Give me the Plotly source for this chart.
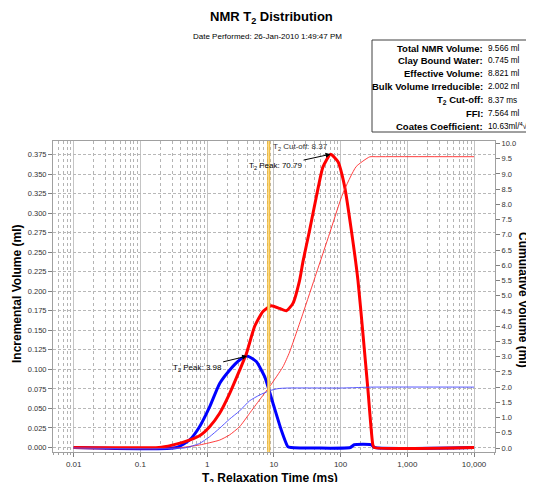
import math
import plotly.graph_objects as go

# ---------------- data ----------------
# Incremental volume: total (red) and bound part (blue)
red_inc_t = [0.01, 0.19, 0.3, 0.43, 0.77, 1.09, 1.54, 2.17, 3.07, 3.87, 5.15, 6.86, 9.15,
             12.2, 15.4, 19.3, 24.3, 27.3, 34.3, 43.3, 54.3, 70.79, 91, 115, 145, 182,
             216, 257, 305, 320, 10000]
red_inc_v = [0, 0, 0.003, 0.0065, 0.015, 0.0266, 0.0438, 0.069, 0.099, 0.12, 0.155, 0.174,
             0.1815, 0.178, 0.175, 0.1845, 0.214, 0.238, 0.278, 0.321, 0.359, 0.3755, 0.366,
             0.334, 0.278, 0.214, 0.146, 0.0736, 0.003, 0, 0]

blue_inc_t = [0.01, 0.35, 0.547, 0.77, 1.09, 1.54, 2.17, 3.07, 3.98, 5.45, 7.28, 9.7, 12.9,
              16.2, 18, 140, 160, 290, 320, 10000]
blue_inc_v = [0, 0, 0.0096, 0.0266, 0.052, 0.082, 0.099, 0.112, 0.117, 0.11, 0.0906, 0.0566,
              0.0224, 0.001, 0, 0, 0.0035, 0.0035, 0, 0]

# Cumulative volume
red_cum_t = [0.01, 0.35, 0.77, 1.54, 2.17, 3.07, 4.33, 6.1, 8.6, 13.7, 17.2, 27.3, 43.3,
             68.5, 108, 171, 272, 350, 10000]
red_cum_v = [0, 0, 0.1, 0.26, 0.43, 0.7, 1.14, 1.58, 2.01, 2.67, 3.15, 4.42, 5.74, 7.05,
             8.36, 9.24, 9.56, 9.566, 9.566]

blue_cum_t = [0.01, 0.45, 0.77, 1.09, 1.54, 2.17, 3.07, 4.33, 6.1, 8.6, 11.5, 16, 100, 150,
              300, 10000]
blue_cum_v = [0, 0, 0.15, 0.37, 0.65, 0.95, 1.22, 1.55, 1.74, 1.88, 1.95, 1.97, 1.97, 1.98,
              2.0, 2.0]

t2_cutoff = 8.37
peak_red_t = 70.79
peak_blue_t = 3.98

x_tickvals = [0.01, 0.1, 1, 10, 100, 1000, 10000]
x_ticktext = ["0.01", "0.1", "1", "10", "100", "1,000", "10,000"]
y_left_ticks = [i * 0.025 for i in range(16)]
y_right_ticks = [i * 0.5 for i in range(21)]

stat_labels = ["Total NMR Volume:", "Clay Bound Water:", "Effective Volume:",
               "Bulk Volume Irreducible:", "T<sub>2</sub> Cut-off:", "FFI:",
               "Coates Coefficient:"]
stat_values = ["9.566 ml", "0.745 ml", "8.821 ml", "2.002 ml", "8.37 ms", "7.564 ml",
               "10.63ml/<sup>4</sup>√ms"]

# ---------------- geometry ----------------
# page pixel positions; the page body adds an 8px margin around the figure
OFF = 8
W, H = 534 - OFF, 482 - OFF
L, R, T, B = 53, 495, 141, 452  # plot area in page pixels


def px(x):
    return (x - L) / (R - L)


def py(y):
    return (B - y) / (B - T)


font = "Liberation Sans"
fig = go.Figure()

fig.add_trace(go.Scatter(x=red_cum_t, y=red_cum_v, yaxis="y2", mode="lines",
                         line=dict(color="rgba(255,40,40,0.9)", width=1, shape="spline",
                                   smoothing=0.5),
                         hoverinfo="skip", showlegend=False))
fig.add_trace(go.Scatter(x=blue_cum_t, y=blue_cum_v, yaxis="y2", mode="lines",
                         line=dict(color="rgba(70,70,255,0.9)", width=1, shape="spline",
                                   smoothing=0.5),
                         hoverinfo="skip", showlegend=False))
fig.add_trace(go.Scatter(x=blue_inc_t, y=blue_inc_v, mode="lines",
                         line=dict(color="#0000FF", width=3, shape="spline", smoothing=0.5),
                         hoverinfo="skip", showlegend=False))
fig.add_trace(go.Scatter(x=red_inc_t, y=red_inc_v, mode="lines",
                         line=dict(color="#FF0000", width=3, shape="spline", smoothing=0.5),
                         hoverinfo="skip", showlegend=False))

minor_vals = [m * 10 ** e for e in range(-3, 5) for m in range(2, 10)]

fig.update_layout(
    template="none",
    width=W, height=H, autosize=False,
    margin=dict(l=L - OFF, r=W - (R - OFF), t=T - OFF, b=H - (B - OFF), pad=0),
    paper_bgcolor="white", plot_bgcolor="white",
    font=dict(family=font, size=8, color="#333333"),
    xaxis=dict(type="log", range=[math.log10(0.0049), math.log10(20600)], automargin=False,
               tickvals=x_tickvals, ticktext=x_ticktext, ticks="outside", ticklen=4,
               tickcolor="#808080", showgrid=True, gridcolor="#C4C4C4", gridwidth=1,
               minor=dict(tickvals=minor_vals, ticks="outside", ticklen=2,
                          tickcolor="#A0A0A0", showgrid=True, gridcolor="#B4B4B4",
                          griddash="dot", gridwidth=1),
               showline=True, linecolor="#A0A0A0", mirror=True, zeroline=False,
               tickfont=dict(size=8, color="#333333")),
    yaxis=dict(range=[-0.0058, 0.3924], tickvals=y_left_ticks, tickformat=".3f",
               automargin=False, ticks="outside", ticklen=4, tickcolor="#808080",
               showgrid=True, gridcolor="#B8B8B8", griddash="3px,2px", gridwidth=1,
               showline=True, linecolor="#A0A0A0", mirror=True, zeroline=False,
               tickfont=dict(size=7.5, color="#333333")),
    yaxis2=dict(overlaying="y", side="right", range=[-0.131, 10.082], automargin=False,
                tickvals=y_right_ticks, tickformat=".1f", ticks="outside", ticklen=4,
                tickcolor="#808080", showgrid=False, zeroline=False, showline=True,
                linecolor="#A0A0A0", tickfont=dict(size=7.5, color="#333333")),
)

# cut-off line
fig.add_shape(type="line", xref="x", yref="paper", x0=t2_cutoff, x1=t2_cutoff, y0=0, y1=1,
              line=dict(color="#F2B830", width=3))
fig.add_shape(type="line", xref="x", yref="paper", x0=t2_cutoff, x1=t2_cutoff, y0=0, y1=1,
              line=dict(color="#FBE3A0", width=1))

anns = []
anns.append(dict(xref="x", yref="paper", x=math.log10(t2_cutoff), y=py(147),
                 text="T<sub>2</sub> Cut-off: %.2f" % t2_cutoff, showarrow=False,
                 xanchor="left", yanchor="middle", xshift=2,
                 font=dict(size=8, color="#333333")))
anns.append(dict(xref="x", yref="y", x=math.log10(peak_red_t), y=max(red_inc_v),
                 text="T<sub>2</sub> Peak: %.2f" % peak_red_t, showarrow=True,
                 ax=-55, ay=12, arrowhead=2, arrowsize=1, arrowwidth=1,
                 arrowcolor="#000000", font=dict(size=8, color="#000000")))
anns.append(dict(xref="x", yref="y", x=math.log10(peak_blue_t), y=max(blue_inc_v),
                 text="T<sub>2</sub> Peak: %.2f" % peak_blue_t, showarrow=True,
                 ax=-50, ay=12, arrowhead=2, arrowsize=1, arrowwidth=1,
                 arrowcolor="#000000", font=dict(size=8, color="#000000")))

# titles
anns.append(dict(xref="paper", yref="paper", x=px(271), y=py(18),
                 text="<b>NMR T<sub>2</sub> Distribution</b>", showarrow=False,
                 xanchor="center", yanchor="middle", font=dict(size=13, color="#000000")))
anns.append(dict(xref="paper", yref="paper", x=px(267), y=py(36),
                 text="Date Performed: 26-Jan-2010 1:49:47 PM", showarrow=False,
                 xanchor="center", yanchor="middle", font=dict(size=8, color="#000000")))
anns.append(dict(xref="paper", yref="paper", x=px(17), y=py(294),
                 text="<b>Incremental Volume (ml)</b>", showarrow=False, textangle=-90,
                 xanchor="center", yanchor="middle", font=dict(size=12, color="#000000")))
anns.append(dict(xref="paper", yref="paper", x=px(523), y=py(300),
                 text="<b>Cumulative Volume (ml)</b>", showarrow=False, textangle=90,
                 xanchor="center", yanchor="middle", font=dict(size=12, color="#000000")))
anns.append(dict(xref="paper", yref="paper", x=px(270), y=py(479),
                 text="<b>T<sub>2</sub> Relaxation Time (ms)</b>", showarrow=False,
                 xanchor="center", yanchor="middle", font=dict(size=12, color="#000000")))

# stats box
fig.add_shape(type="rect", xref="paper", yref="paper", x0=px(372), x1=px(545),
              y0=py(132), y1=py(40), line=dict(color="#404040", width=1),
              fillcolor="white", layer="below")
row_y = [48, 61, 74, 87, 100, 113, 126]
for lab, val, yy in zip(stat_labels, stat_values, row_y):
    anns.append(dict(xref="paper", yref="paper", x=px(485), y=py(yy), text="<b>%s</b>" % lab,
                     showarrow=False, xanchor="right", yanchor="middle",
                     font=dict(size=9.5, color="#000000")))
    anns.append(dict(xref="paper", yref="paper", x=px(486), y=py(yy), text=val,
                     showarrow=False, xanchor="left", yanchor="middle",
                     font=dict(size=8.2, color="#000000")))

fig.update_layout(annotations=anns)
fig.write_html("out.html")
